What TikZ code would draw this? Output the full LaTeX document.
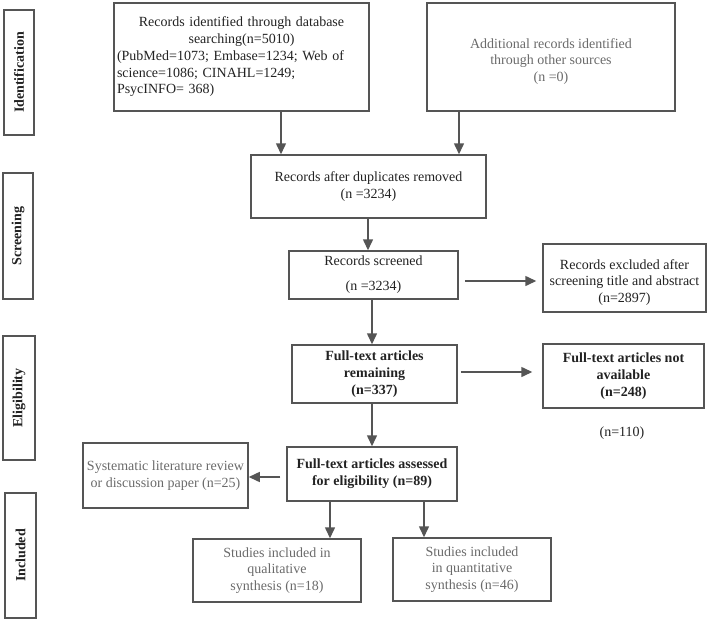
\documentclass[tikz,border=0pt]{standalone}
\usepackage{fontspec}
\setmainfont{Liberation Serif}
\usetikzlibrary{arrows.meta}
\definecolor{boxline}{HTML}{555555}
\definecolor{greytext}{HTML}{6A6A6A}
\definecolor{darktext}{HTML}{222222}

\begin{document}
\begin{tikzpicture}[x=1pt,y=-1pt,
    box/.style={draw=boxline,line width=1.5pt,inner sep=1pt,align=center,
                font=\fontsize{14}{16.75}\selectfont,text=darktext},
    grey/.style={text=greytext},
    bold/.style={font=\fontsize{14}{16.75}\selectfont\bfseries},
    side/.style={draw=boxline,line width=1.5pt,rotate=90,inner sep=0pt,
                 font=\fontsize{14}{16}\selectfont\bfseries,text=darktext},
    arr/.style={draw=boxline,line width=1.5pt,-{Triangle[length=11pt,width=10pt]}}]

  \useasboundingbox (0,0) rectangle (709,621);

  \node (ident) [side,minimum width=125pt,minimum height=30pt] at (19,72.5) {Identification};
  \node (screen) [side,minimum width=126pt,minimum height=30pt] at (18,236) {Screening};
  \node (elig) [side,minimum width=124pt,minimum height=32pt] at (19,398) {Eligibility};
  \node (incl) [side,minimum width=125pt,minimum height=31pt] at (20.5,555.5) {Included};

  \node (rec) [box,align=left,text width=249pt,minimum width=255pt,minimum height=108pt] at (241.5,57)
    {\makebox[249pt]{Records identified through database}\\
     \makebox[249pt]{searching(n=5010)}\\
     (PubMed=1073; Embase=1234; Web of\\
     science=1086; CINAHL=1249;\\
     PsycINFO= 368)};
  \node (add) [box,grey,minimum width=248pt,minimum height=108pt] at (551,57)
    {\mbox{}\\[2pt]Additional records identified\\through other sources\\(n =0)};
  \node (dup) [box,minimum width=235pt,minimum height=63pt] at (368.5,186.5)
    {Records after duplicates removed\\(n =3234)};
  \node (scr) [box,minimum width=169pt,minimum height=48pt] at (373.5,275)
    {Records screened\\[8pt](n =3234)};
  \node (exc) [box,minimum width=163pt,minimum height=68pt] at (624.5,278)
    {\mbox{}\\[2pt]Records excluded after\\screening title and abstract\\(n=2897)};
  \node (rem) [box,bold,minimum width=165pt,minimum height=58pt] at (374.5,374)
    {Full-text articles\\remaining\\(n=337)};
  \node (na) [box,bold,minimum width=161pt,minimum height=64pt] at (623.5,376)
    {Full-text articles not\\available\\(n=248)};
  \node (nodd) [font=\fontsize{14}{16.75}\selectfont,text=darktext] at (622,433) {(n=110)};
  \node (ass) [box,bold,minimum width=170pt,minimum height=54pt] at (372,474)
    {Full-text articles assessed\\for eligibility (n=89)};
  \node (sys) [box,grey,minimum width=165pt,minimum height=65pt] at (165.5,475.5)
    {Systematic literature review\\or discussion paper (n=25)};
  \node (qual) [box,grey,minimum width=168pt,minimum height=63pt] at (277,570.5)
    {Studies included in\\qualitative\\synthesis (n=18)};
  \node (quan) [box,grey,minimum width=158pt,minimum height=63pt] at (472,569.5)
    {Studies included\\in quantitative\\synthesis (n=46)};

  \draw[arr] ([xshift=39.5pt]rec.south) -- ([xshift=39.5pt]rec.south |- dup.north);
  \draw[arr] ([xshift=-92pt]add.south) -- ([xshift=-92pt]add.south |- dup.north);
  \draw[arr] ([xshift=-0.5pt]dup.south) -- ([xshift=-0.5pt]dup.south |- scr.north);
  \draw[arr] ([xshift=-1.5pt]scr.south) -- ([xshift=-1.5pt]scr.south |- rem.north);
  \draw[arr] ([xshift=-2.5pt]rem.south) -- ([xshift=-2.5pt]rem.south |- ass.north);
  \draw[arr,shorten <=6pt,shorten >=6pt] ([yshift=-6pt]scr.east) -- ([yshift=-6pt]scr.east -| exc.west);
  \draw[arr,shorten <=3pt,shorten >=10pt] ([yshift=2pt]rem.east) -- ([yshift=2pt]rem.east -| na.west);
  \draw[arr,shorten <=6pt] ([yshift=-3pt]ass.west) -- ([yshift=-3pt]ass.west -| sys.east);
  \draw[arr] ([xshift=-42pt]ass.south) -- ([xshift=-42pt]ass.south |- qual.north);
  \draw[arr] ([xshift=52pt]ass.south) -- ([xshift=52pt]ass.south |- quan.north);

\end{tikzpicture}
\end{document}
